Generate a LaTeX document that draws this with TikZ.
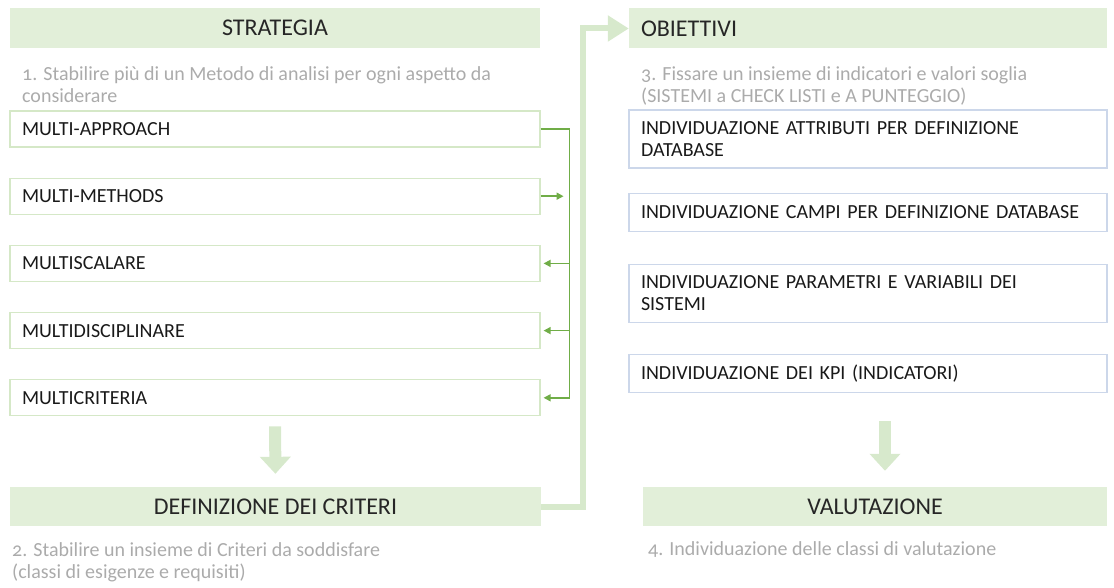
\documentclass[tikz,border=0pt]{standalone}
\usepackage{fontspec}
\setmainfont{Carlito}
\newfontfamily\notefont[Numbers=OldStyle]{Carlito}
\usetikzlibrary{arrows.meta,positioning}
\definecolor{headgreen}{HTML}{E2EFD9}
\definecolor{bandgreen}{HTML}{D7E9CC}
\definecolor{linegreen}{HTML}{70AD47}
\definecolor{boxgreen}{HTML}{D5E8C7}
\definecolor{boxblue}{HTML}{CCD7EA}
\definecolor{notegray}{HTML}{ABABAB}
\definecolor{inkgray}{HTML}{262626}

\begin{document}
\begin{tikzpicture}[x=1pt,y=-1pt,>={Triangle[length=7pt,width=7pt]},font=\fontsize{20}{22}\selectfont]
  \tikzstyle{head}=[fill=headgreen,text=inkgray,font=\fontsize{24}{28}\selectfont,minimum height=40pt,inner sep=0pt]
  \tikzstyle{item}=[draw=boxgreen,line width=1.2pt,text=black!90,minimum height=36pt,text width=506pt,inner xsep=12pt,align=left]
  \tikzstyle{goal}=[draw=boxblue,line width=1.2pt,text=black!90,text width=454pt,inner xsep=12pt,align=left]
  \tikzstyle{note}=[text=notegray,font=\notefont\fontsize{20}{22}\selectfont,align=left,anchor=base west,inner sep=0pt]
  \tikzstyle{link}=[draw=linegreen,line width=1.5pt]
  \tikzstyle{band}=[draw=bandgreen,line width=6pt]
  \tikzstyle{down}=[draw=bandgreen,line width=12pt,-{Triangle[width=30pt,length=17pt]}]
  \useasboundingbox (0,0) rectangle (1114,588);
  % strategia
  \node[head,minimum width=530pt] (strat) at (275,28) {STRATEGIA};
  \node[note] (note1) at (22,102.5) {1. Stabilire più di un Metodo di analisi per ogni aspetto da\\considerare};
  \node[item] (m1) at (275,129) {MULTI-APPROACH};
  \node[item,below=30pt of m1] (m2) {MULTI-METHODS};
  \node[item,below=30pt of m2] (m3) {MULTISCALARE};
  \node[item,below=30pt of m3] (m4) {MULTIDISCIPLINARE};
  \node[item,below=30pt of m4] (m5) {MULTICRITERIA};
  \coordinate (bus) at ([xshift=29pt]m1.east);
  \draw[link] (m1.east) -- (bus) -- (bus |- m5.east);
  \draw[link,->] (m2.east) -- ([xshift=23pt]m2.east);
  \foreach \m in {m3,m4,m5}
    \draw[link,->,shorten >=3pt] (bus |- \m.east) -- (\m.east);
  % obiettivi
  \node[head,minimum width=478pt,text width=454pt,inner xsep=12pt,align=left] (obj) at (868,28.5) {OBIETTIVI};
  \node[note] (note3) at (641,102.5) {3. Fissare un insieme di indicatori e valori soglia\\(SISTEMI a CHECK LISTI e A PUNTEGGIO)};
  \node[goal,minimum height=58pt] (g1) at (868,139) {INDIVIDUAZIONE ATTRIBUTI PER DEFINIZIONE\\DATABASE};
  \node[goal,minimum height=38pt,below=24pt of g1] (g2) {INDIVIDUAZIONE CAMPI PER DEFINIZIONE DATABASE};
  \node[goal,minimum height=58pt,below=32pt of g2] (g3) {INDIVIDUAZIONE PARAMETRI E VARIABILI DEI\\SISTEMI};
  \node[goal,minimum height=38pt,below=31pt of g3] (g4) {INDIVIDUAZIONE DEI KPI (INDICATORI)};
  % criteri e valutazione
  \node[head,minimum width=531pt,minimum height=39pt] (crit) at (275.5,506.5) {DEFINIZIONE DEI CRITERI};
  \node[head,minimum width=464pt,minimum height=39pt] (eval) at (875,506.5) {VALUTAZIONE};
  \node[note] (note2) at (12,578) {2. Stabilire un insieme di Criteri da soddisfare\\(classi di esigenze e requisiti)};
  \node[note] (note4) at (648,555.5) {4. Individuazione delle classi di valutazione};
  \draw[down,shorten <=10pt,shorten >=13pt] (m5.south) -- (crit.north);
  \coordinate (evtop) at ([xshift=10pt]eval.north);
  \draw[down,shorten <=28pt,shorten >=16pt] (evtop |- g4.south) -- (evtop);
  \coordinate (bandtop) at ([xshift=-46pt]obj.west);
  \draw[band,-{Triangle[width=25pt,length=21pt]}] (crit.east) -| (bandtop) -- (obj.west);
\end{tikzpicture}
\end{document}
